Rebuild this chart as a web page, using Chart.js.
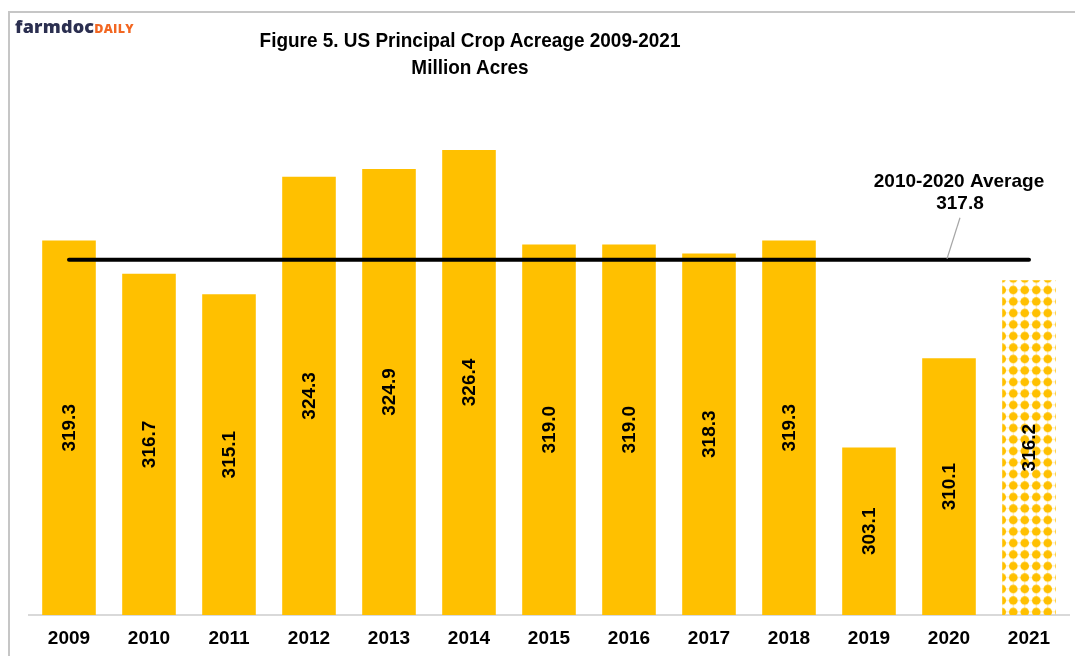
<!DOCTYPE html>
<html>
<head>
<meta charset="UTF-8">
<title>US Principal Crop Acreage</title>
<script src="https://cdn.jsdelivr.net/npm/chart.js"></script>
<style>
html, body { margin: 0; padding: 0; background: #fff; overflow: hidden; }
#wrap { position: relative; width: 1075px; height: 656px; }
#frame { position: absolute; left: 8px; top: 11px; width: 1100px; height: 700px; border: 2px solid #c6c6c6; box-sizing: border-box; }
#logo { position: absolute; left: 15px; top: 14px; white-space: nowrap; }
#logo .farm { font-family: "Open Sans", sans-serif; font-weight: 800; font-size: 18px; color: #2b2f50; letter-spacing: 0.2px; }
#logo .daily { font-family: "Open Sans", sans-serif; font-weight: 800; font-size: 12.5px; color: #f26722; letter-spacing: 0.3px; }
#title { position: absolute; left: 170px; top: 26px; width: 600px; text-align: center;
         font-family: "Liberation Sans", Arial, sans-serif; font-weight: bold; font-size: 20.5px; line-height: 27px; color: #000;
         transform: scaleX(0.925); transform-origin: 300px 0; }
canvas { position: absolute; left: 0; top: 0; }
</style>
</head>
<body>
<div id="wrap">
  <div id="frame"></div>
  <canvas id="myChart" width="1075" height="656"></canvas>
  <div id="logo"><span class="farm">farmdoc</span><span class="daily">DAILY</span></div>
  <div id="title">Figure 5. US Principal Crop Acreage 2009-2021<br>Million Acres</div>
</div>

<script>
// million acres by year
const years = ['2009', '2010', '2011', '2012', '2013', '2014', '2015', '2016', '2017', '2018', '2019', '2020', '2021'];
const acres = [319.3, 316.7, 315.1, 324.3, 324.9, 326.4, 319.0, 319.0, 318.3, 319.3, 303.1, 310.1, 316.2];
const average = 317.8;
const averageText = ['2010-2020 Average', '317.8'];
const averageLabelAt = 11; // leader line points at the 2020 slot

const yMin = 290;
const yMax = 335;
const gold = '#FFC000';
const labelFont = 'bold 19px "Liberation Sans", Arial, sans-serif';

// dotted fill for the last (projected) year
function dotPattern() {
  const c = document.createElement('canvas');
  c.width = 23; c.height = 23;
  const g = c.getContext('2d');
  const pos = [5.75, 17.25];
  pos.forEach(function(px){
    pos.forEach(function(py){
      g.strokeStyle = 'rgba(255,192,0,0.35)';
      g.lineWidth = 1;
      g.beginPath();
      g.moveTo(px - 5.7, py); g.lineTo(px + 5.7, py);
      g.moveTo(px, py - 5.7); g.lineTo(px, py + 5.7);
      g.stroke();
      g.fillStyle = gold;
      g.beginPath(); g.arc(px, py, 4.3, 0, Math.PI * 2); g.fill();
    });
  });
  const p = g.createPattern(c, 'repeat');
  p.setTransform(new DOMMatrix().translate(7, 8.25));
  return p;
}

const barColors = acres.map(function(v, i){ return i == acres.length - 1 ? dotPattern() : gold; });

// numbers written sideways in the middle of each bar
const barValues = {
  id: 'barValues',
  afterDraw(chart) {
    const c = chart.ctx;
    const xs = chart.scales.x;
    const ys = chart.scales.y;
    const bottom = ys.getPixelForValue(yMin);
    c.save();
    c.font = labelFont;
    c.fillStyle = '#000';
    c.textAlign = 'center';
    c.textBaseline = 'middle';
    acres.forEach(function(v, i){
      const x = xs.getPixelForValue(i);
      const y = (ys.getPixelForValue(v) + bottom) / 2;
      c.save();
      c.translate(x, y);
      c.rotate(-Math.PI / 2);
      c.fillText(v.toFixed(1), 0, 1);
      c.restore();
    });
    c.restore();
  }
};

// callout for the average line
const averageNote = {
  id: 'averageNote',
  afterDraw(chart) {
    const c = chart.ctx;
    const x = chart.scales.x.getPixelForValue(averageLabelAt);
    const y = chart.scales.y.getPixelForValue(average);
    c.save();
    c.strokeStyle = '#a6a6a6';
    c.lineWidth = 1.2;
    c.beginPath();
    c.moveTo(x + 11, y - 42);
    c.lineTo(x - 2, y - 1);
    c.stroke();
    c.font = labelFont;
    c.fillStyle = '#000';
    c.textAlign = 'center';
    c.textBaseline = 'middle';
    c.fillText(averageText[0], x + 10, y - 78);
    c.fillText(averageText[1], x + 11, y - 56);
    c.restore();
  }
};

const ctx = document.getElementById('myChart').getContext('2d');
const myChart = new Chart(ctx, {
  type: 'bar',
  data: {
    labels: years,
    datasets: [{
      type: 'line',
      label: 'Average',
      data: years.map(function(){ return average; }),
      borderColor: '#000',
      borderWidth: 4,
      borderCapStyle: 'round',
      pointRadius: 0,
      fill: false,
      order: 0
    }, {
      label: 'Acres',
      data: acres,
      backgroundColor: barColors,
      borderWidth: 0,
      barPercentage: 0.67,
      categoryPercentage: 1,
      order: 1
    }]
  },
  options: {
    responsive: false,
    animation: false,
    layout: { padding: { left: 29, right: 6, top: 40, bottom: 7 } },
    plugins: {
      legend: { display: false },
      tooltip: { enabled: false },
      title: { display: false }
    },
    scales: {
      x: {
        grid: { display: false, drawTicks: false },
        border: { display: true, color: '#d9d9d9', width: 2 },
        afterFit: function(scale){ scale.height = 34; },
        ticks: {
          color: '#000',
          padding: 12,
          font: { family: '"Liberation Sans", Arial, sans-serif', size: 19, weight: 'bold' }
        }
      },
      y: {
        display: false,
        min: yMin,
        max: yMax
      }
    }
  },
  plugins: [barValues, averageNote]
});
</script>
</body>
</html>
